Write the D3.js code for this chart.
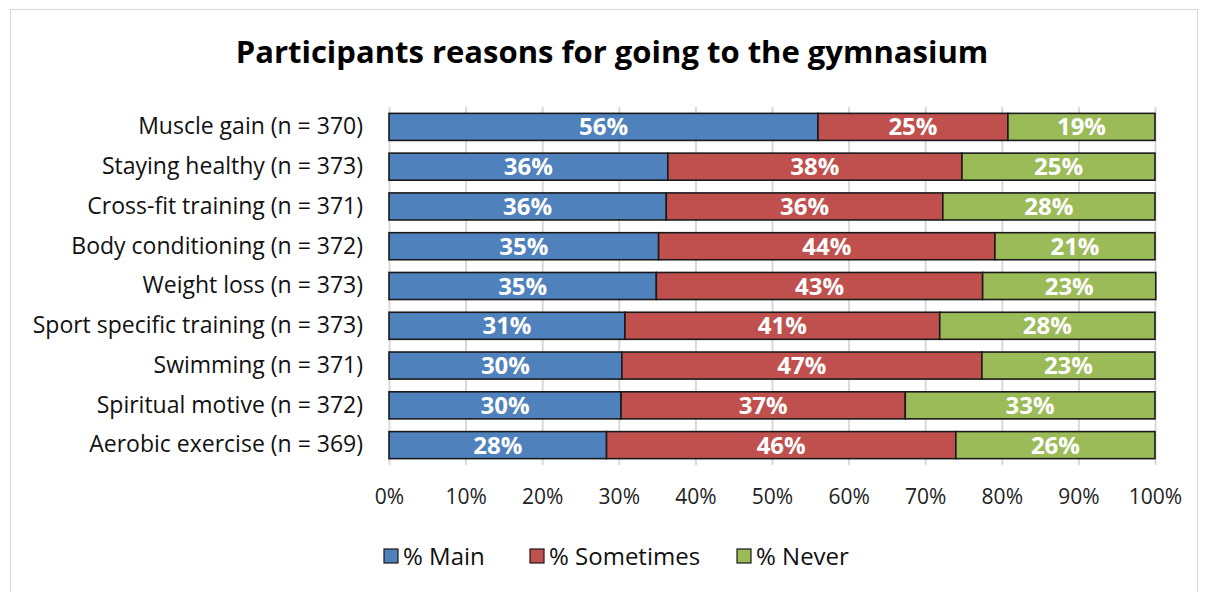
<!DOCTYPE html>
<html><head><meta charset="utf-8">
<script src="https://cdn.jsdelivr.net/npm/d3@7"></script>
<style>
html,body{margin:0;padding:0;background:#fff;}
svg{display:block;font-family:"Open Sans",Lato,sans-serif;}
</style></head>
<body>
<svg id="chart" width="1206" height="592"></svg>
<script>
const title = "Participants reasons for going to the gymnasium";
const categories = ["Muscle gain (n = 370)","Staying healthy (n = 373)","Cross-fit training (n = 371)","Body conditioning (n = 372)","Weight loss (n = 373)","Sport specific training (n = 373)","Swimming (n = 371)","Spiritual motive (n = 372)","Aerobic exercise (n = 369)"];
const seriesNames = ["% Main","% Sometimes","% Never"];
const mainVals = [56.0,36.4,36.2,35.2,34.9,30.8,30.4,30.3,28.4];
const sometimesVals = [24.8,38.4,36.1,43.9,42.6,41.1,47.0,37.1,45.6];
const neverVals = [19.2,25.2,27.7,20.9,22.6,28.1,22.6,32.6,26.0];
const tickVals = [0,10,20,30,40,50,60,70,80,90,100];
const colors = ["#4F81BD","#C0504D","#9BBB59"];
const FONT = "'Open Sans',Lato,sans-serif";

const svg = d3.select("#chart");
svg.append("rect").attr("x",10.5).attr("y",9.5).attr("width",1187).attr("height",600)
  .attr("fill","none").attr("stroke","#d9d9d9").attr("stroke-width",1);

svg.append("text").attr("x",612).attr("y",63).attr("text-anchor","middle")
  .attr("font-size",31).attr("font-weight",700).attr("fill","#000").text(title);

const x = d3.scaleLinear().domain([0,100]).range([389,1155]);
const y = d3.scaleBand().domain(categories).range([107,465]).paddingInner(0.32).paddingOuter(0.16);

svg.append("g").selectAll("line").data(tickVals).join("line")
  .attr("x1",d=>x(d)+0.5).attr("x2",d=>x(d)+0.5).attr("y1",107).attr("y2",465)
  .attr("stroke","#d9d9d9").attr("stroke-width",2);

const xAxis = d3.axisBottom(x).tickValues(tickVals).tickFormat(d=>d+"%").tickSize(0).tickPadding(0);
const gx = svg.append("g").attr("transform","translate(0,489)").call(xAxis);
gx.select(".domain").remove();
gx.selectAll("text").attr("font-size",21).attr("fill","#222").attr("font-family",FONT);

const yAxis = d3.axisLeft(y).tickSize(0).tickPadding(0);
const gy = svg.append("g").attr("transform","translate(363,0)").call(yAxis);
gy.select(".domain").remove();
gy.selectAll("text").attr("font-size",23).attr("fill","#111").attr("font-family",FONT);

const rows = categories.map((c,i)=>({cat:c, vals:[mainVals[i],sometimesVals[i],neverVals[i]]}));
const stackData = rows.map(r=>{let acc=0; return r.vals.map((v,j)=>{const s={cat:r.cat,x0:acc,x1:acc+v,v:v,j:j}; acc+=v; return s;});}).flat();

const bars = svg.append("g");
bars.selectAll("rect").data(stackData).join("rect")
  .attr("x",d=>x(d.x0)).attr("width",d=>x(d.x1)-x(d.x0))
  .attr("y",d=>y(d.cat)).attr("height",y.bandwidth())
  .attr("fill",d=>colors[d.j]).attr("stroke","#1a1a1a").attr("stroke-width",1.6);

bars.selectAll("text").data(stackData).join("text")
  .attr("x",d=>(x(d.x0)+x(d.x1))/2).attr("y",d=>y(d.cat)+y.bandwidth()/2+8.5)
  .attr("text-anchor","middle").attr("font-size",24).attr("font-weight",700).attr("fill","#fff")
  .text(d=>Math.round(d.v)+"%");

const legendX = [384,530,737];
const lg = svg.append("g").selectAll("g").data(seriesNames).join("g")
  .attr("transform",(d,i)=>`translate(${legendX[i]},549)`);
lg.append("rect").attr("width",14).attr("height",14).attr("fill",(d,i)=>colors[i]).attr("stroke","#1a1a1a").attr("stroke-width",1.2);
lg.append("text").attr("x",19).attr("y",16).attr("font-size",24).attr("fill","#111").text(d=>d);
</script>
</body></html>
